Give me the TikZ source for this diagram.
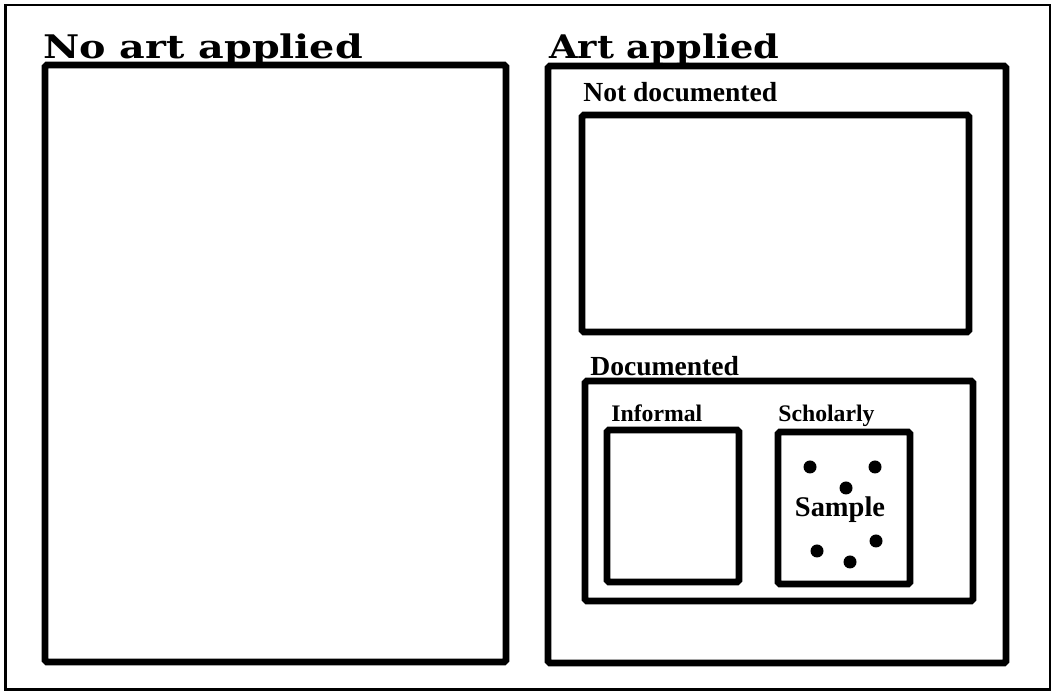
\documentclass[tikz,border=0pt]{standalone}
\usepackage{fontspec}
\usepackage{graphicx}
\usepackage{xcolor}
\usepackage{tikz}
\setmainfont{Liberation Serif}
\newfontfamily\headfont{DejaVu Serif}
\definecolor{ARInk}{HTML}{000000}
\definecolor{ARPaper}{HTML}{FFFFFF}
\newcommand{\headlabel}[2][1.22]{\scalebox{#1}[1.0]{\headfont\bfseries #2}}

\begin{document}
\begin{tikzpicture}[x=1cm,y=1cm,
  setbox/.style={draw=ARInk,line width=3.8pt,rounded corners=1pt},
  headtitle/.style={anchor=base west,inner sep=0pt,font=\fontsize{18.5}{19}\selectfont},
  setlabel/.style={anchor=base west,inner sep=0pt,font=\bfseries\fontsize{15.7}{16}\selectfont},
  sublabel/.style={anchor=base west,inner sep=0pt,font=\bfseries\fontsize{13.5}{14}\selectfont},
  sampledot/.style={fill=ARInk}]
\path[use as bounding box,fill=ARPaper] (0,0) rectangle (21.10,13.86);
\draw[ARInk,line width=1.4pt] (0.11,13.76) rectangle (21.00,0.07);
\node[headtitle] (noart) at (0.86,12.68) {\headlabel{No art applied}};
\draw[setbox] (0.90,12.56) rectangle (10.12,0.62);
\node[headtitle] (art) at (10.98,12.68) {\headlabel[1.13]{Art applied}};
\draw[setbox] (10.96,12.54) rectangle (20.12,0.60);
\node[setlabel] (notdoc) at (11.66,11.82) {Not documented};
\draw[setbox] (11.64,11.56) rectangle (19.38,7.22);
\node[setlabel] (doc) at (11.80,6.34) {Documented};
\draw[setbox] (11.70,6.24) rectangle (19.46,1.84);
\node[sublabel] (informal) at (12.22,5.42) {Informal};
\draw[setbox] (12.14,5.26) rectangle (14.78,2.22);
\node[sublabel] (scholarly) at (15.56,5.42) {Scholarly};
\draw[setbox] (15.56,5.22) rectangle (18.20,2.18);
\foreach \dx/\dy in {16.20/4.52,17.50/4.52,16.92/4.10,16.34/2.84,17.52/3.04,17.00/2.62}
  \fill[sampledot] (\dx,\dy) circle (0.13);
\node[inner sep=0pt,font=\bfseries\fontsize{16.2}{17}\selectfont] (sample) at (16.80,3.66) {Sample};
\end{tikzpicture}
\end{document}
